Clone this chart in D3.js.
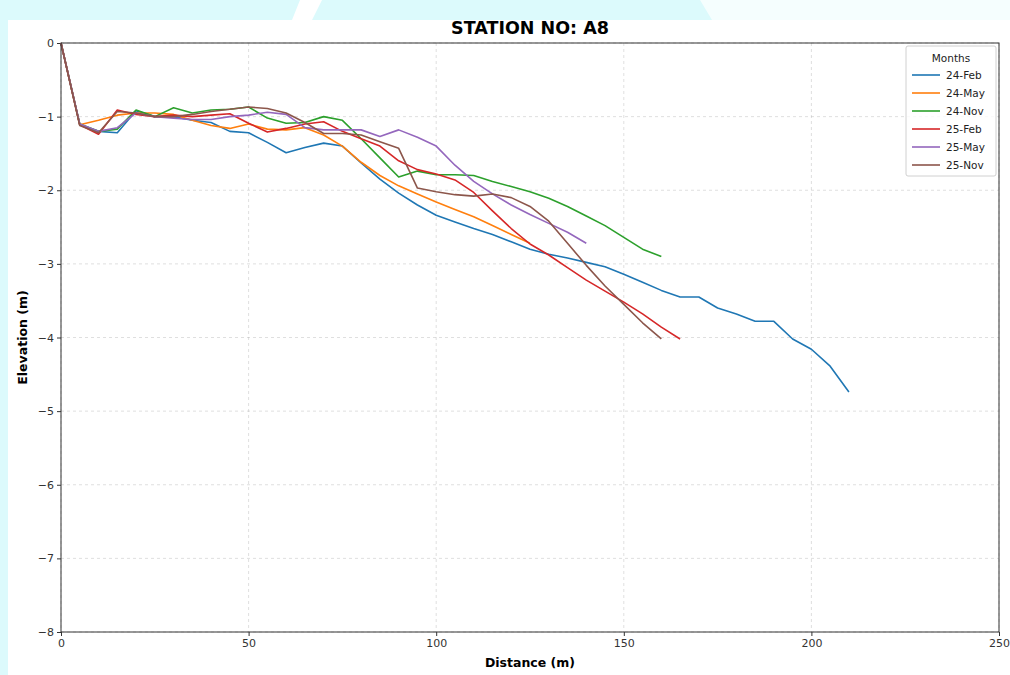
<!DOCTYPE html>
<html>
<head>
<meta charset="utf-8">
<script src="https://cdn.jsdelivr.net/npm/d3@7"></script>
<style>
  body { margin: 0; background: #fff; }
  svg { display: block; font-family: "DejaVu Sans", sans-serif; }
</style>
</head>
<body>
<div id="chart"></div>
<script>
// distances (m) sampled every 5 m
var months = ['24-Feb', '24-May', '24-Nov', '25-Feb', '25-May', '25-Nov'];
var colors = ['#1f77b4', '#ff7f0e', '#2ca02c', '#d62728', '#9467bd', '#8c564b'];

var feb24 = [0, -1.11, -1.2, -1.22, -0.92, -1.0, -1.0, -1.05, -1.08, -1.2, -1.22, -1.35, -1.49, -1.42, -1.36, -1.4,
  -1.63, -1.85, -2.04, -2.2, -2.34, -2.43, -2.52, -2.6, -2.7, -2.8, -2.87, -2.92, -2.98, -3.04, -3.14, -3.25,
  -3.36, -3.45, -3.45, -3.6, -3.68, -3.78, -3.78, -4.02, -4.16, -4.39, -4.74];
var may24 = [0, -1.11, -1.05, -0.98, -0.95, -0.95, -0.97, -1.05, -1.12, -1.16, -1.1, -1.17, -1.18, -1.15, -1.25, -1.4,
  -1.62, -1.8, -1.94, -2.05, -2.16, -2.26, -2.36, -2.48, -2.6, -2.72];
var nov24 = [0, -1.1, -1.2, -1.17, -0.91, -1.0, -0.88, -0.95, -0.91, -0.9, -0.87, -1.02, -1.09, -1.08, -1.0, -1.05,
  -1.3, -1.56, -1.82, -1.74, -1.79, -1.79, -1.8, -1.88, -1.95, -2.02, -2.11, -2.22, -2.35, -2.48, -2.64, -2.8, -2.9];
var feb25 = [0, -1.11, -1.24, -0.91, -0.97, -1.0, -0.98, -1.0, -0.98, -0.96, -1.09, -1.21, -1.16, -1.1, -1.07, -1.2,
  -1.3, -1.4, -1.6, -1.72, -1.78, -1.86, -2.03, -2.28, -2.52, -2.73, -2.88, -3.05, -3.22, -3.37, -3.52, -3.68, -3.86, -4.02];
var may25 = [0, -1.1, -1.2, -1.15, -0.95, -1.0, -1.02, -1.04, -1.04, -1.0, -0.98, -0.94, -0.97, -1.15, -1.18, -1.18,
  -1.18, -1.27, -1.18, -1.28, -1.4, -1.66, -1.88, -2.05, -2.2, -2.33, -2.45, -2.57, -2.72];
var nov25 = [0, -1.12, -1.22, -0.93, -0.95, -1.0, -1.0, -0.97, -0.93, -0.9, -0.87, -0.89, -0.95, -1.08, -1.23, -1.23,
  -1.25, -1.34, -1.43, -1.97, -2.02, -2.06, -2.08, -2.05, -2.1, -2.22, -2.42, -2.72, -3.02, -3.3, -3.55, -3.8, -4.02];

var seriesValues = [feb24, may24, nov24, feb25, may25, nov25];
var xTicks = [0, 50, 100, 150, 200, 250];
var yTicks = [0, -1, -2, -3, -4, -5, -6, -7, -8];

var W = 1010, H = 675;
var m = { left: 61, right: 999, top: 43, bottom: 632 };

var svg = d3.select('#chart').append('svg')
  .attr('width', W)
  .attr('height', H);

// faint cyan watermark around the figure edges
var bg = svg.append('g');
bg.append('rect').attr('x', 0).attr('y', 0).attr('width', W).attr('height', 20).attr('fill', '#dcfafc');
bg.append('rect').attr('x', 0).attr('y', 0).attr('width', 8).attr('height', H).attr('fill', '#dcfafc');
bg.append('path').attr('d', 'M300,0 L322,0 L312,20 L292,20 Z').attr('fill', '#fff');
bg.append('path').attr('d', 'M700,0 L1105,0 L1100,20 L712,20 Z').attr('fill', '#fff').attr('opacity', 0.7);

var x = d3.scaleLinear().domain([0, 250]).range([m.left, m.right]);
var y = d3.scaleLinear().domain([-8, 0]).range([m.bottom, m.top]);

// grid
var grid = svg.append('g');
grid.selectAll('.gx').data(xTicks).enter().append('line')
  .attr('x1', function(d) { return x(d); }).attr('x2', function(d) { return x(d); })
  .attr('y1', m.top).attr('y2', m.bottom)
  .attr('stroke', '#b0b0b0').attr('stroke-opacity', 0.5)
  .attr('stroke-width', 0.8).attr('stroke-dasharray', '3,3');
grid.selectAll('.gy').data(yTicks).enter().append('line')
  .attr('y1', function(d) { return y(d); }).attr('y2', function(d) { return y(d); })
  .attr('x1', m.left).attr('x2', m.right)
  .attr('stroke', '#b0b0b0').attr('stroke-opacity', 0.5)
  .attr('stroke-width', 0.8).attr('stroke-dasharray', '3,3');

// axes
var fmt = function(d) { return d < 0 ? '\u2212' + Math.abs(d) : d; };
var xAxis = d3.axisBottom(x).tickValues(xTicks).tickSize(4).tickPadding(3).tickFormat(fmt);
var yAxis = d3.axisLeft(y).tickValues(yTicks).tickSize(4).tickPadding(3).tickFormat(fmt);

svg.append('g')
  .attr('transform', 'translate(0,' + m.bottom + ')')
  .call(xAxis)
  .call(function(g) { g.select('.domain').remove(); });
svg.append('g')
  .attr('transform', 'translate(' + m.left + ',0)')
  .call(yAxis)
  .call(function(g) { g.select('.domain').remove(); });
svg.selectAll('.tick text').attr('font-size', 11).attr('fill', '#333').attr('font-family', 'DejaVu Sans');
svg.selectAll('.tick line').attr('stroke', '#333');

// lines
var line = d3.line()
  .x(function(d, i) { return x(i * 5); })
  .y(function(d) { return y(d); });

svg.append('g').selectAll('path')
  .data(seriesValues)
  .enter().append('path')
  .attr('d', line)
  .attr('fill', 'none')
  .attr('stroke', function(d, i) { return colors[i]; })
  .attr('stroke-width', 1.6)
  .attr('stroke-linejoin', 'round');

// frame
svg.append('rect')
  .attr('x', m.left).attr('y', m.top)
  .attr('width', m.right - m.left).attr('height', m.bottom - m.top)
  .attr('fill', 'none').attr('stroke', '#333').attr('stroke-width', 1);

// titles
svg.append('text')
  .attr('x', 530).attr('y', 34)
  .attr('text-anchor', 'middle')
  .attr('font-size', 17.5).attr('font-weight', 'bold')
  .text('STATION NO: A8');
svg.append('text')
  .attr('x', (m.left + m.right) / 2).attr('y', 667)
  .attr('text-anchor', 'middle')
  .attr('font-size', 12.5).attr('font-weight', 'bold')
  .text('Distance (m)');
svg.append('text')
  .attr('transform', 'translate(27,' + ((m.top + m.bottom) / 2) + ') rotate(-90)')
  .attr('text-anchor', 'middle')
  .attr('font-size', 12.5).attr('font-weight', 'bold')
  .text('Elevation (m)');

// legend
var lg = svg.append('g').attr('transform', 'translate(906,46)');
lg.append('rect')
  .attr('width', 90).attr('height', 130).attr('rx', 2)
  .attr('fill', '#fff').attr('fill-opacity', 0.8)
  .attr('stroke', '#d0d0d0');
lg.append('text')
  .attr('x', 45).attr('y', 16)
  .attr('text-anchor', 'middle')
  .attr('font-size', 10.5).attr('fill', '#222')
  .text('Months');
var items = lg.selectAll('.item').data(months).enter().append('g')
  .attr('transform', function(d, i) { return 'translate(0,' + (29 + i * 18) + ')'; });
items.append('line')
  .attr('x1', 6).attr('x2', 34)
  .attr('stroke', function(d, i) { return colors[i]; })
  .attr('stroke-width', 1.6);
items.append('text')
  .attr('x', 40).attr('y', 4)
  .attr('font-size', 10.5).attr('fill', '#222')
  .text(function(d) { return d; });
</script>
</body>
</html>
